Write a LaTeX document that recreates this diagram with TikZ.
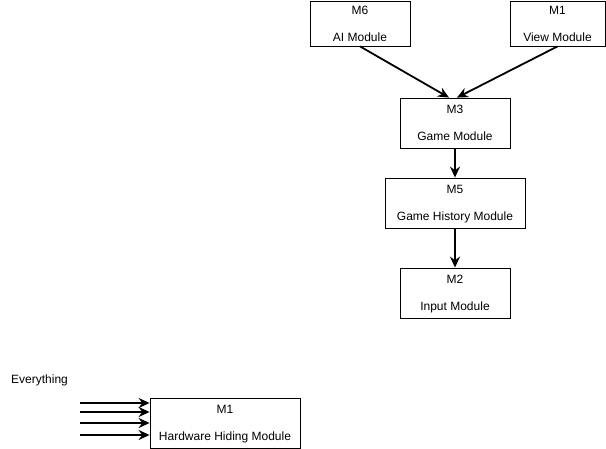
\documentclass[tikz,border=0pt]{standalone}
\usepackage{fontspec}
\setmainfont{Liberation Sans}
\usepackage{tikz}
\usetikzlibrary{arrows.meta,positioning,calc}

\begin{document}
\begin{tikzpicture}[x=1pt,y=-1pt,font=\fontsize{12}{14}\selectfont,
  module/.style={rectangle,draw=black,line width=0.8pt,fill=white,align=center,
                 inner sep=0pt,minimum height=50pt,text depth=-7pt},
  dep/.style={-{Stealth[length=11pt,width=10pt]},line width=1.8pt}]

  \useasboundingbox (0,0) rectangle (606,449);

  \node[module,minimum width=100pt,minimum height=45pt] (AI) at (360,23.5) {M6\\[13pt]AI Module};
  \node[module,minimum width=95pt,minimum height=45pt] (VIEW) at (557.5,23.5) {M1\\[13pt]View Module};
  \node[module,minimum width=110pt] (GAME) at (455,123) {M3\\[13pt]Game Module};
  \node[module,minimum width=140pt] (HIST) at (455,203) {M5\\[13pt]Game History Module};
  \node[module,minimum width=110pt] (INPUT) at (455,293) {M2\\[13pt]Input Module};
  \node[module,minimum width=150pt] (HW) at (225,423) {M1\\[13pt]Hardware Hiding Module};

  \node[anchor=west,inner sep=0pt] (ALL) at (11,380) {Everything};

  \draw[dep] (AI.south) -- ([xshift=-6pt]GAME.north);
  \draw[dep] (VIEW.south) -- ([xshift=2pt]GAME.north);
  \draw[dep] (GAME.south) -- (HIST.north);
  \draw[dep] (HIST.south) -- (INPUT.north);

  % incoming arrows to hardware hiding
  \foreach \i/\y in {1/403,2/412,3/423,4/435}{
    \coordinate (in\i) at (80,\y);
    \draw[dep] (in\i) -- (in\i -| HW.west);
  }
\end{tikzpicture}
\end{document}
